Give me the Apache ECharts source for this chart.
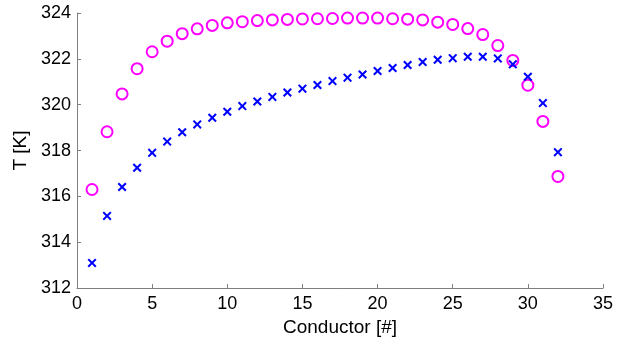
<!DOCTYPE html>
<html>
<head>
<meta charset="utf-8">
<script src="https://cdn.jsdelivr.net/npm/echarts@6/dist/echarts.min.js"></script>
<style>
  html, body { margin: 0; padding: 0; background: #fff; }
  #chart { width: 627px; height: 342px; }
</style>
</head>
<body>
<div id="chart"></div>
<script>
// conductor index 1..32
const conductors = [1,2,3,4,5,6,7,8,9,10,11,12,13,14,15,16,17,18,19,20,21,22,23,24,25,26,27,28,29,30,31,32];

// magenta circles
const tCircles = [316.3, 318.82, 320.47, 321.57, 322.31, 322.77, 323.1, 323.31, 323.46, 323.57,
  323.62, 323.67, 323.7, 323.72, 323.74, 323.75, 323.76, 323.78, 323.78, 323.78,
  323.75, 323.73, 323.7, 323.6, 323.5, 323.32, 323.06, 322.58, 321.93, 320.85,
  319.27, 316.87];

// blue crosses
const tCrosses = [313.1, 315.15, 316.41, 317.25, 317.9, 318.39, 318.8, 319.14, 319.43, 319.69,
  319.94, 320.14, 320.34, 320.53, 320.7, 320.86, 321.03, 321.18, 321.32, 321.47,
  321.6, 321.73, 321.86, 321.96, 322.03, 322.09, 322.09, 322.02, 321.76, 321.22,
  320.07, 317.93];

const xTicks = { min: 0, max: 35, interval: 5 };
const yTicks = { min: 312, max: 324, interval: 2 };

const pairs = (ys) => conductors.map((c, i) => [c, ys[i]]);

const crossPath = 'path://M0,1.6 L1.6,0 L5,3.4 L8.4,0 L10,1.6 L6.6,5 L10,8.4 L8.4,10 L5,6.6 L1.6,10 L0,8.4 L3.4,5 Z';
const axisGrey = '#7f7f7f';
const font = 'Liberation Sans, Arial, sans-serif';

const chart = echarts.init(document.getElementById('chart'), null, { renderer: 'canvas' });
chart.setOption({
  animation: false,
  backgroundColor: '#fff',
  grid: { left: 77, right: 24, top: 13, bottom: 52 },
  xAxis: {
    type: 'value',
    min: xTicks.min, max: xTicks.max, interval: xTicks.interval,
    name: 'Conductor [#]',
    nameLocation: 'middle',
    nameGap: 25,
    nameTextStyle: { color: '#000', fontSize: 19, fontFamily: font },
    axisLine: { show: true, lineStyle: { color: axisGrey, width: 1 } },
    axisTick: { show: true, inside: true, length: 4, lineStyle: { color: axisGrey } },
    axisLabel: { color: '#000', fontSize: 18, fontFamily: font, margin: 7 },
    splitLine: { show: false }
  },
  yAxis: {
    type: 'value',
    min: yTicks.min, max: yTicks.max, interval: yTicks.interval,
    name: 'T [K]',
    nameLocation: 'middle',
    nameGap: 38,
    nameTextStyle: { color: '#000', fontSize: 19, fontFamily: font },
    axisLine: { show: true, lineStyle: { color: axisGrey, width: 1 } },
    axisTick: { show: true, inside: true, length: 4, lineStyle: { color: axisGrey } },
    axisLabel: { color: '#000', fontSize: 18, fontFamily: font, margin: 6 },
    splitLine: { show: false }
  },
  series: [
    {
      type: 'scatter',
      data: pairs(tCircles),
      symbol: 'circle',
      symbolSize: 11,
      itemStyle: { color: 'rgba(0,0,0,0)', borderColor: '#ff00ff', borderWidth: 2, opacity: 1 }
    },
    {
      type: 'scatter',
      data: pairs(tCrosses),
      symbol: crossPath,
      symbolSize: 9,
      itemStyle: { color: '#0000ff', opacity: 1 }
    }
  ]
});
</script>
</body>
</html>
